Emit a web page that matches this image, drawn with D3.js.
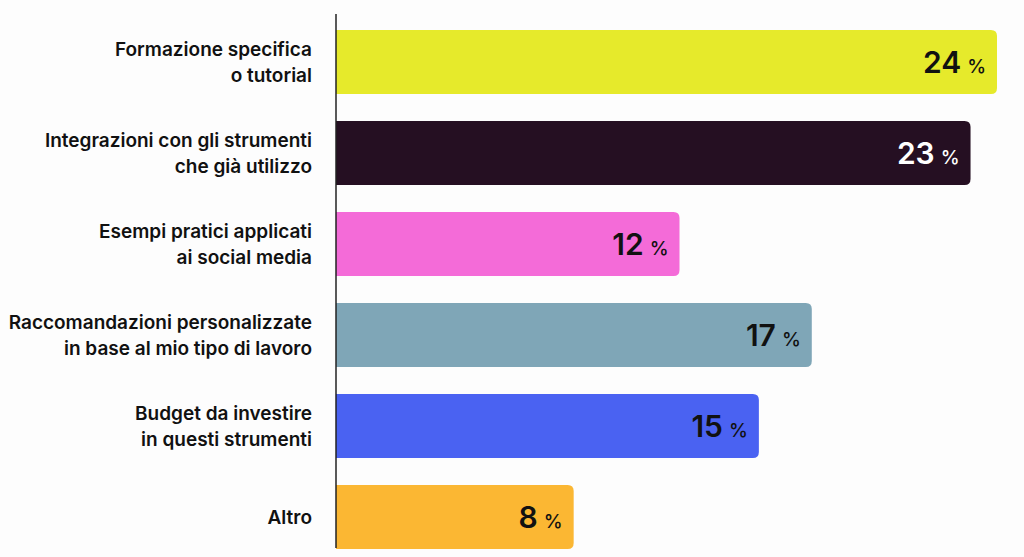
<!DOCTYPE html>
<html>
<head>
<meta charset="utf-8">
<script src="https://cdn.jsdelivr.net/npm/d3@7"></script>
<style>
  body { margin: 0; background: #fdfdfd; }
  svg { display: block; font-family: Inter, "Noto Sans", sans-serif; }
</style>
</head>
<body>
<script>
var categories = [
  ['Formazione specifica', 'o tutorial'],
  ['Integrazioni con gli strumenti', 'che già utilizzo'],
  ['Esempi pratici applicati', 'ai social media'],
  ['Raccomandazioni personalizzate', 'in base al mio tipo di lavoro'],
  ['Budget da investire', 'in questi strumenti'],
  ['Altro']
];
var values = [24, 23, 12, 17, 15, 8];
var colors = ['#e6ea2b', '#250f22', '#f46bd8', '#7fa6b7', '#4a62f2', '#fbb733'];
var valueColors = ['#111', '#fff', '#111', '#111', '#111', '#111'];

var width = 1024, height = 557;
var x0 = 336;

var svg = d3.select('body').append('svg')
    .attr('width', width)
    .attr('height', height);

var x = d3.scaleLinear()
    .domain([0, 24])
    .range([362, 997]);

var y = d3.scaleBand()
    .domain(d3.range(values.length))
    .range([30, 549])
    .paddingInner(0.297)
    .paddingOuter(0);

var r = 6;
// bars: square on the left, rounded on the right
svg.selectAll('path.bar')
    .data(values)
    .enter().append('path')
    .attr('class', 'bar')
    .attr('fill', (d, i) => colors[i])
    .attr('d', function(d, i) {
      var x1 = x(d), t = y(i), b = t + y.bandwidth();
      return 'M' + x0 + ',' + t + 'H' + (x1 - r) +
        'Q' + x1 + ',' + t + ' ' + x1 + ',' + (t + r) +
        'V' + (b - r) +
        'Q' + x1 + ',' + b + ' ' + (x1 - r) + ',' + b +
        'H' + x0 + 'Z';
    });

// axis line
svg.append('line')
    .attr('x1', x0).attr('x2', x0)
    .attr('y1', 14).attr('y2', 548)
    .attr('stroke', '#222')
    .attr('stroke-width', 1.5);

// category labels
var labels = svg.selectAll('text.cat')
    .data(categories)
    .enter().append('text')
    .attr('class', 'cat')
    .attr('text-anchor', 'end')
    .attr('font-size', 19)
    .attr('font-weight', 600)
    .attr('fill', '#111');

labels.each(function(lines, i) {
  var cy = y(i) + y.bandwidth() / 2;
  var lh = 26;
  var start = cy - (lines.length - 1) * lh / 2 + 7;
  d3.select(this).selectAll('tspan')
    .data(lines)
    .enter().append('tspan')
    .attr('x', 312)
    .attr('y', (d, j) => start + j * lh)
    .text(d => d);
});

// value labels
var vl = svg.selectAll('text.val')
    .data(values)
    .enter().append('text')
    .attr('class', 'val')
    .attr('text-anchor', 'end')
    .attr('x', d => x(d) - 11)
    .attr('y', (d, i) => y(i) + y.bandwidth() / 2 + 11)
    .attr('fill', (d, i) => valueColors[i]);

vl.append('tspan')
    .attr('font-size', 30)
    .attr('font-weight', 600)
    .text(d => d);
vl.append('tspan')
    .attr('font-size', 19)
    .attr('font-weight', 500)
    .attr('dx', 6)
    .text('%');
</script>
</body>
</html>
